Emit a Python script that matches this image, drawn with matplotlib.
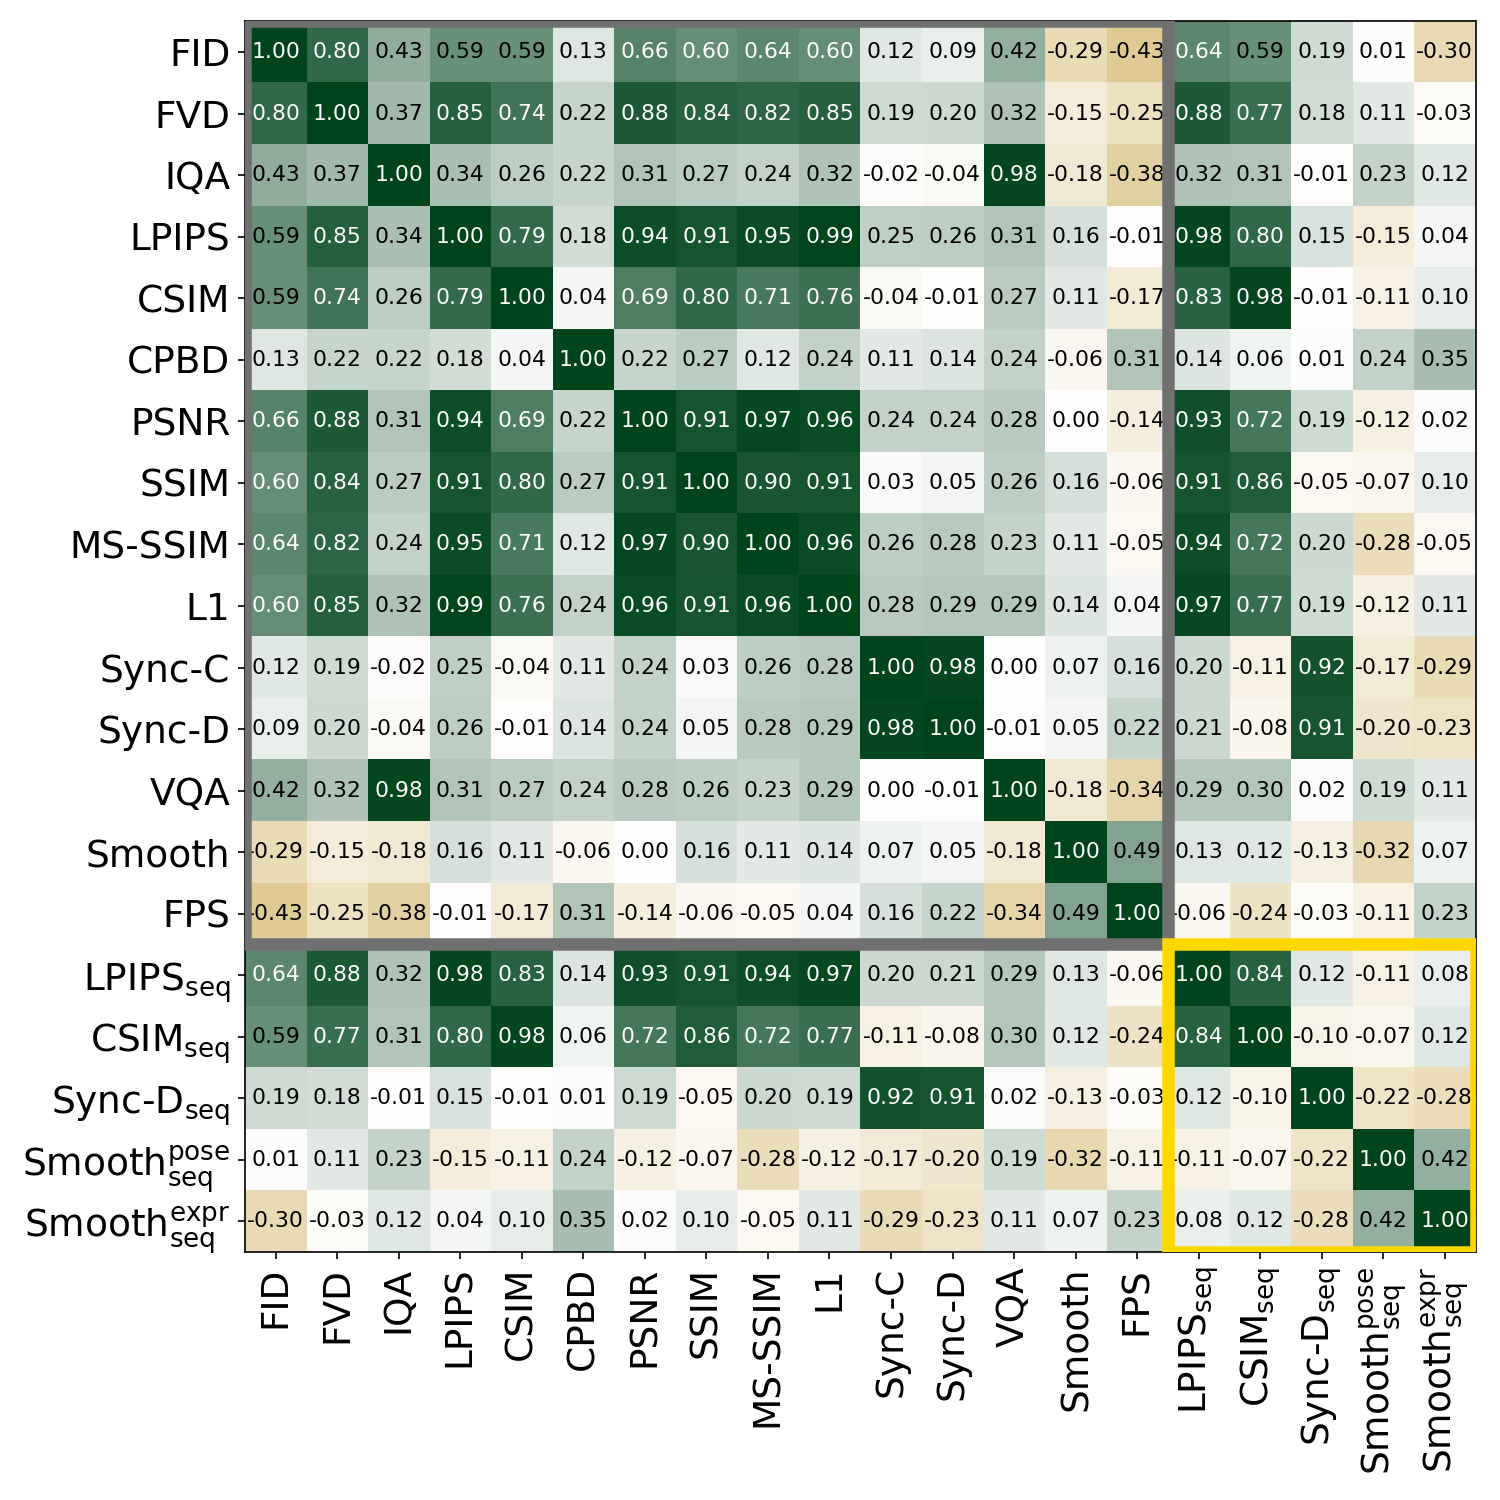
import matplotlib
matplotlib.use("Agg")
import matplotlib.pyplot as plt
import numpy as np
from matplotlib.colors import LinearSegmentedColormap
from matplotlib.patches import Rectangle

#metric names, frame-level first then the sequence-level ones
labels = ["FID", "FVD", "IQA", "LPIPS", "CSIM", "CPBD", "PSNR", "SSIM",
          "MS-SSIM", "L1", "Sync-C", "Sync-D", "VQA", "Smooth", "FPS",
          r"LPIPS$_{\mathrm{seq}}$", r"CSIM$_{\mathrm{seq}}$",
          r"Sync-D$_{\mathrm{seq}}$",
          r"Smooth$^{\mathrm{pose}}_{\mathrm{seq}}$",
          r"Smooth$^{\mathrm{expr}}_{\mathrm{seq}}$"]

#correlation values read row by row
corr = [
    [1.00, 0.80, 0.43, 0.59, 0.59, 0.13, 0.66, 0.60, 0.64, 0.60, 0.12, 0.09, 0.42, -0.29, -0.43, 0.64, 0.59, 0.19, 0.01, -0.30],
    [0.80, 1.00, 0.37, 0.85, 0.74, 0.22, 0.88, 0.84, 0.82, 0.85, 0.19, 0.20, 0.32, -0.15, -0.25, 0.88, 0.77, 0.18, 0.11, -0.03],
    [0.43, 0.37, 1.00, 0.34, 0.26, 0.22, 0.31, 0.27, 0.24, 0.32, -0.02, -0.04, 0.98, -0.18, -0.38, 0.32, 0.31, -0.01, 0.23, 0.12],
    [0.59, 0.85, 0.34, 1.00, 0.79, 0.18, 0.94, 0.91, 0.95, 0.99, 0.25, 0.26, 0.31, 0.16, -0.01, 0.98, 0.80, 0.15, -0.15, 0.04],
    [0.59, 0.74, 0.26, 0.79, 1.00, 0.04, 0.69, 0.80, 0.71, 0.76, -0.04, -0.01, 0.27, 0.11, -0.17, 0.83, 0.98, -0.01, -0.11, 0.10],
    [0.13, 0.22, 0.22, 0.18, 0.04, 1.00, 0.22, 0.27, 0.12, 0.24, 0.11, 0.14, 0.24, -0.06, 0.31, 0.14, 0.06, 0.01, 0.24, 0.35],
    [0.66, 0.88, 0.31, 0.94, 0.69, 0.22, 1.00, 0.91, 0.97, 0.96, 0.24, 0.24, 0.28, 0.00, -0.14, 0.93, 0.72, 0.19, -0.12, 0.02],
    [0.60, 0.84, 0.27, 0.91, 0.80, 0.27, 0.91, 1.00, 0.90, 0.91, 0.03, 0.05, 0.26, 0.16, -0.06, 0.91, 0.86, -0.05, -0.07, 0.10],
    [0.64, 0.82, 0.24, 0.95, 0.71, 0.12, 0.97, 0.90, 1.00, 0.96, 0.26, 0.28, 0.23, 0.11, -0.05, 0.94, 0.72, 0.20, -0.28, -0.05],
    [0.60, 0.85, 0.32, 0.99, 0.76, 0.24, 0.96, 0.91, 0.96, 1.00, 0.28, 0.29, 0.29, 0.14, 0.04, 0.97, 0.77, 0.19, -0.12, 0.11],
    [0.12, 0.19, -0.02, 0.25, -0.04, 0.11, 0.24, 0.03, 0.26, 0.28, 1.00, 0.98, 0.00, 0.07, 0.16, 0.20, -0.11, 0.92, -0.17, -0.29],
    [0.09, 0.20, -0.04, 0.26, -0.01, 0.14, 0.24, 0.05, 0.28, 0.29, 0.98, 1.00, -0.01, 0.05, 0.22, 0.21, -0.08, 0.91, -0.20, -0.23],
    [0.42, 0.32, 0.98, 0.31, 0.27, 0.24, 0.28, 0.26, 0.23, 0.29, 0.00, -0.01, 1.00, -0.18, -0.34, 0.29, 0.30, 0.02, 0.19, 0.11],
    [-0.29, -0.15, -0.18, 0.16, 0.11, -0.06, 0.00, 0.16, 0.11, 0.14, 0.07, 0.05, -0.18, 1.00, 0.49, 0.13, 0.12, -0.13, -0.32, 0.07],
    [-0.43, -0.25, -0.38, -0.01, -0.17, 0.31, -0.14, -0.06, -0.05, 0.04, 0.16, 0.22, -0.34, 0.49, 1.00, -0.06, -0.24, -0.03, -0.11, 0.23],
    [0.64, 0.88, 0.32, 0.98, 0.83, 0.14, 0.93, 0.91, 0.94, 0.97, 0.20, 0.21, 0.29, 0.13, -0.06, 1.00, 0.84, 0.12, -0.11, 0.08],
    [0.59, 0.77, 0.31, 0.80, 0.98, 0.06, 0.72, 0.86, 0.72, 0.77, -0.11, -0.08, 0.30, 0.12, -0.24, 0.84, 1.00, -0.10, -0.07, 0.12],
    [0.19, 0.18, -0.01, 0.15, -0.01, 0.01, 0.19, -0.05, 0.20, 0.19, 0.92, 0.91, 0.02, -0.13, -0.03, 0.12, -0.10, 1.00, -0.22, -0.28],
    [0.01, 0.11, 0.23, -0.15, -0.11, 0.24, -0.12, -0.07, -0.28, -0.12, -0.17, -0.20, 0.19, -0.32, -0.11, -0.11, -0.07, -0.22, 1.00, 0.42],
    [-0.30, -0.03, 0.12, 0.04, 0.10, 0.35, 0.02, 0.10, -0.05, 0.11, -0.29, -0.23, 0.11, 0.07, 0.23, 0.08, 0.12, -0.28, 0.42, 1.00],
]

n_frame = 15  #size of the frame-level block

C = np.array(corr)
n = len(labels)

cmap = LinearSegmentedColormap.from_list("gw", ["#b8860b", "#ffffff", "#00441b"])

fig = plt.figure(figsize=(10, 10), dpi=150)
ax = fig.add_axes([0.1633, 0.1653, 0.8204, 0.8204])
ax.imshow(C, cmap=cmap, vmin=-1, vmax=1, aspect="auto")

for i in range(n):
    for j in range(n):
        v = C[i, j]
        col = "white" if v >= 0.6 else "black"
        ax.text(j, i, "%.2f" % v, ha="center", va="center", fontsize=10.5, color=col)

ax.set_xticks(range(n))
ax.set_yticks(range(n))
ax.set_xticklabels(labels, rotation=90, fontsize=18)
ax.set_yticklabels(labels, fontsize=18)

#frames around the two blocks
ax.add_patch(Rectangle((-0.5, -0.5), n_frame, n_frame, fill=False,
                       edgecolor="#707070", lw=6, zorder=5))
ax.add_patch(Rectangle((n_frame - 0.5, n_frame - 0.5), n - n_frame, n - n_frame,
                       fill=False, edgecolor="#ffd700", lw=6, zorder=6))

fig.savefig("out.png", dpi=150)
